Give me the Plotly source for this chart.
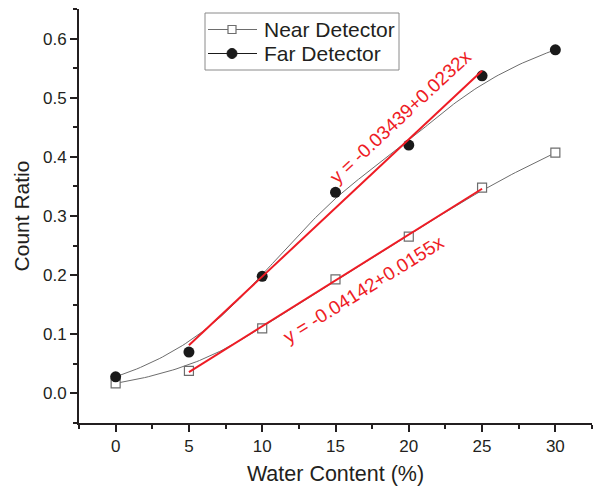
import numpy as np
import plotly.graph_objects as go

# ---- data ----
water_content = [0, 5, 10, 15, 20, 25, 30]
near_ratio = [0.017, 0.038, 0.110, 0.193, 0.265, 0.348, 0.407]
far_ratio = [0.028, 0.070, 0.198, 0.340, 0.420, 0.537, 0.581]

fit_x_range = [5, 25]
near_fit = {"intercept": -0.04142, "slope": 0.0155, "label": "y = -0.04142+0.0155x"}
far_fit = {"intercept": -0.03439, "slope": 0.0232, "label": "y = -0.03439+0.0232x"}

series_names = ["Near Detector", "Far Detector"]

x_ticks = [0, 5, 10, 15, 20, 25, 30]
y_ticks = [0.0, 0.1, 0.2, 0.3, 0.4, 0.5, 0.6]


def bspline(xs, ys, n=200, k=3):
    """Clamped uniform B-spline using the data points as control points (Origin-style connection)."""
    P = np.column_stack([xs, ys]).astype(float)
    m = len(P)
    inner = list(range(1, m - k))
    knots = np.array([0] * (k + 1) + inner + [m - k] * (k + 1), dtype=float)
    ts = np.linspace(0, m - k, n)

    def basis(i, d, t):
        if d == 0:
            if knots[i] <= t < knots[i + 1] or (t == knots[-1] and knots[i] < t <= knots[i + 1]):
                return 1.0
            return 0.0
        a = 0.0
        if knots[i + d] != knots[i]:
            a = (t - knots[i]) / (knots[i + d] - knots[i]) * basis(i, d - 1, t)
        b = 0.0
        if knots[i + d + 1] != knots[i + 1]:
            b = (knots[i + d + 1] - t) / (knots[i + d + 1] - knots[i + 1]) * basis(i + 1, d - 1, t)
        return a + b

    out = []
    for t in ts:
        w = np.array([basis(i, k, t) for i in range(m)])
        out.append(w @ P)
    out = np.array(out)
    return out[:, 0], out[:, 1]


axis_color = "#231f20"
font_family = "Liberation Sans, Arial, sans-serif"
red = "#ee1c25"
curve_gray = "#6d6d6d"
dot_color = "#1a1a1a"

W, H = 597, 488
ML, MR, MT, MB = 79, 5, 9, 65
PW, PH = W - ML - MR, H - MT - MB


def px(x):
    return (x - ML) / PW


def py(y):
    return (H - MB - y) / PH


fig = go.Figure()

nx, ny = bspline(water_content, near_ratio)
fx, fy = bspline(water_content, far_ratio)

fig.add_trace(go.Scatter(x=nx, y=ny, mode="lines", line=dict(color=curve_gray, width=1),
                         showlegend=False, hoverinfo="skip"))
fig.add_trace(go.Scatter(x=fx, y=fy, mode="lines", line=dict(color=curve_gray, width=1),
                         showlegend=False, hoverinfo="skip"))

fig.add_trace(go.Scatter(x=water_content, y=near_ratio, mode="markers", name=series_names[0],
                         showlegend=False,
                         marker=dict(symbol="square", size=9, color="white",
                                     line=dict(color=curve_gray, width=1.2))))
fig.add_trace(go.Scatter(x=water_content, y=far_ratio, mode="markers", name=series_names[1],
                         showlegend=False,
                         marker=dict(symbol="circle", size=11, color=dot_color)))

# fit lines
for fit in (far_fit, near_fit):
    xs = np.array(fit_x_range, dtype=float)
    fig.add_trace(go.Scatter(x=xs, y=fit["intercept"] + fit["slope"] * xs, mode="lines",
                             line=dict(color=red, width=2), showlegend=False, hoverinfo="skip"))

fig.add_annotation(x=19.45, y=0.468, xref="x", yref="y", text=far_fit["label"], showarrow=False,
                   textangle=-43, font=dict(family=font_family, size=19, color=red))
fig.add_annotation(x=16.9, y=0.176, xref="x", yref="y", text=near_fit["label"], showarrow=False,
                   textangle=-32, font=dict(family=font_family, size=19, color=red))

# ---- custom legend (box, sample lines, markers, labels) ----
shapes = [
    dict(type="rect", xref="paper", yref="paper", x0=px(205), x1=px(399), y0=py(70), y1=py(13),
         line=dict(color="#8a8a8a", width=1), fillcolor="white", layer="above"),
]
rows = [29.5, 53.5]
for row_y, col in zip(rows, [curve_gray, dot_color]):
    shapes.append(dict(type="line", xref="paper", yref="paper", x0=px(208), x1=px(257),
                       y0=py(row_y), y1=py(row_y), line=dict(color=col, width=1), layer="above"))
# square marker
shapes.append(dict(type="rect", xref="paper", yref="paper", x0=px(228), x1=px(236),
                   y0=py(rows[0] + 4), y1=py(rows[0] - 4), fillcolor="white",
                   line=dict(color=curve_gray, width=1.2), layer="above"))
# circle marker
shapes.append(dict(type="circle", xref="paper", yref="paper", x0=px(227), x1=px(237),
                   y0=py(rows[1] + 5), y1=py(rows[1] - 5), fillcolor=dot_color,
                   line=dict(color=dot_color, width=1), layer="above"))
for row_y, name in zip(rows, series_names):
    fig.add_annotation(x=px(262), y=py(row_y), xref="paper", yref="paper", text=name,
                       showarrow=False, xanchor="left", yanchor="middle",
                       font=dict(family=font_family, size=21, color=axis_color))

fig.update_layout(
    width=W, height=H,
    margin=dict(l=ML, r=MR, t=MT, b=MB),
    paper_bgcolor="white", plot_bgcolor="white",
    font=dict(family=font_family, color=axis_color, size=17),
    showlegend=False,
    shapes=shapes,
    xaxis=dict(range=[-2.5, 32.5], tickvals=x_ticks, showgrid=False, zeroline=False,
               showline=True, linecolor=axis_color, linewidth=2,
               ticks="outside", ticklen=7, tickwidth=2, tickcolor=axis_color,
               minor=dict(ticks="outside", ticklen=4, tickwidth=2, tickcolor=axis_color, dtick=2.5,
                          tick0=-2.5, showgrid=False),
               tickfont=dict(size=17),
               title=dict(text="Water Content (%)", font=dict(size=21.5), standoff=11)),
    yaxis=dict(range=[-0.05, 0.65], tickvals=y_ticks, tickformat=".1f", showgrid=False, zeroline=False,
               showline=True, linecolor=axis_color, linewidth=2,
               ticks="outside", ticklen=7, tickwidth=2, tickcolor=axis_color,
               minor=dict(ticks="outside", ticklen=4, tickwidth=2, tickcolor=axis_color, dtick=0.05,
                          tick0=-0.05, showgrid=False),
               tickfont=dict(size=17),
               title=dict(text="Count Ratio", font=dict(size=21), standoff=8)),
)

fig.write_html("out.html")
